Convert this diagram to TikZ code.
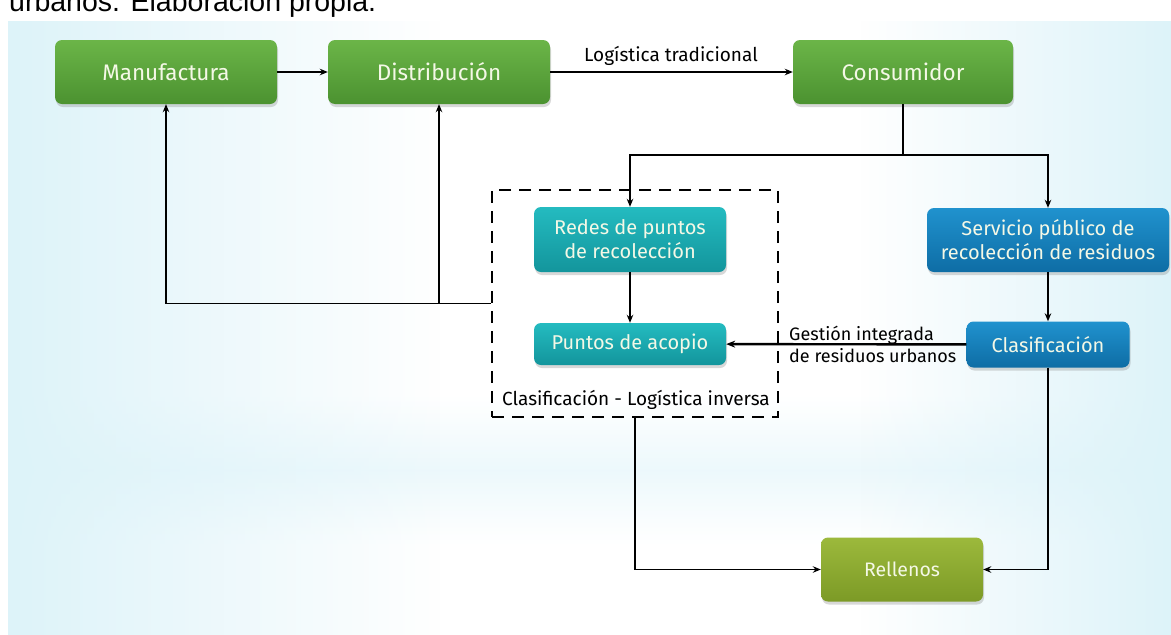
\documentclass[tikz,border=0pt]{standalone}
\usepackage{fontspec}
\setmainfont{Fira Sans}
\newfontfamily\capfont{Liberation Sans}
\usetikzlibrary{arrows.meta,shadows,fadings}

\definecolor{bgc}{HTML}{DDF3F9}
\definecolor{gtop}{HTML}{6BB548}
\definecolor{gbot}{HTML}{4B9230}
\definecolor{ttop}{HTML}{24BBC0}
\definecolor{tbot}{HTML}{13959C}
\definecolor{btop}{HTML}{2092CE}
\definecolor{bbot}{HTML}{0E6DA5}
\definecolor{otop}{HTML}{9CB93C}
\definecolor{obot}{HTML}{7C9A26}
\definecolor{boxtext}{HTML}{F4F8E6}

% side fades for the slide background
\tikzfading[name=fadetoright, left color=transparent!0, right color=transparent!100]
\tikzfading[name=fadetoleft, left color=transparent!100, right color=transparent!0]

\tikzset{
  box/.style={rounded corners=7pt, text=boxtext, align=center, inner sep=2pt,
    font=\fontsize{20}{24}\selectfont,
    drop shadow={shadow xshift=1pt, shadow yshift=-3pt, opacity=0.3}},
  greenbox/.style={box, top color=gtop, bottom color=gbot,
    minimum width=222pt, minimum height=64pt, font=\fontsize{22.5}{26}\selectfont},
  tealbox/.style={box, top color=ttop, bottom color=tbot, minimum width=192pt},
  bluebox/.style={box, top color=btop, bottom color=bbot},
  olivebox/.style={box, top color=otop, bottom color=obot,
    minimum width=162pt, minimum height=64pt, font=\fontsize{19.5}{23}\selectfont},
  lbl/.style={font=\fontsize{19}{22}\selectfont, text=black, inner sep=0pt},
  conn/.style={line width=1.8pt, -{Stealth[length=8pt,width=6.5pt]}},
  wire/.style={line width=1.8pt},
  groupbox/.style={draw, line width=1.8pt, dash pattern=on 12pt off 8pt}
}

\begin{document}
\begin{tikzpicture}[x=1pt,y=-1pt]
\useasboundingbox (0,0) rectangle (1171,635);

% slide background: pale cyan at the sides and in a soft band, white in the middle
\fill[white] (0,0) rectangle (1171,635);
\shade[top color=white, bottom color=white, middle color=bgc!55] (8,395) rectangle (1171,545);
\fill[bgc, path fading=fadetoright] (8,20) rectangle (440,635);
\fill[bgc, path fading=fadetoleft] (860,20) rectangle (1171,635);

% caption line cut by the top edge
\begin{scope}
  \clip (0,0) rectangle (1171,19);
  \node[anchor=base west, inner sep=0pt, font=\capfont\fontsize{28.5}{30}\selectfont] (cap) at (9,11) {urbanos. Elaboración propia.};
\end{scope}

% top row
\node[greenbox] (man) at (166,72) {Manufactura};
\node[greenbox] (dist) at (439,72) {Distribución};
\node[greenbox, minimum width=220pt] (cons) at (903,72) {Consumidor};

% reverse logistics group
\node[groupbox, minimum width=286pt, minimum height=227pt] (inv) at (635,303.5) {};
\node[tealbox, minimum height=65pt] (redes) at (630,239.5) {Redes de puntos\\de recolección};
\node[tealbox, minimum height=42pt] (acop) at (630,344) {Puntos de acopio};
\node[lbl] (invl) at (636,400) {Clasificación - Logística inversa};

% municipal collection
\node[bluebox, minimum width=242pt, minimum height=64pt] (serv) at (1048,240) {Servicio público de\\recolección de residuos};
\node[bluebox, minimum width=163pt, minimum height=46pt] (clas) at (1048,344.5) {Clasificación};

% landfill
\node[olivebox] (rell) at (902,569.5) {Rellenos};

% connectors
\draw[conn] (man) -- (dist);
\draw[conn] (dist) -- (cons);
\node[lbl] (logt) at (671,56) {Logística tradicional};

\coordinate (jn) at (cons.south |- 0,155);
\draw[wire] (cons.south) -- (jn);
\draw[conn] (jn) -| (redes.north);
\draw[conn] (jn) -| (serv.north);

\draw[conn] (redes) -- (acop);
\draw[conn] (serv) -- (clas);
\draw[line width=2.4pt, -{Stealth[length=9pt,width=7pt]}] (clas) -- (acop);
\node[lbl, anchor=west, align=left, font=\fontsize{18}{22}\selectfont] (gest) at (789,344) {Gestión integrada\\de residuos urbanos};

\draw[conn] (inv.west) -| (man.south);
\draw[conn] (inv.west -| dist.south) -- (dist.south);

\draw[conn] (inv.south) |- (rell.west);
\draw[conn] (clas.south) |- (rell.east);
\end{tikzpicture}
\end{document}
